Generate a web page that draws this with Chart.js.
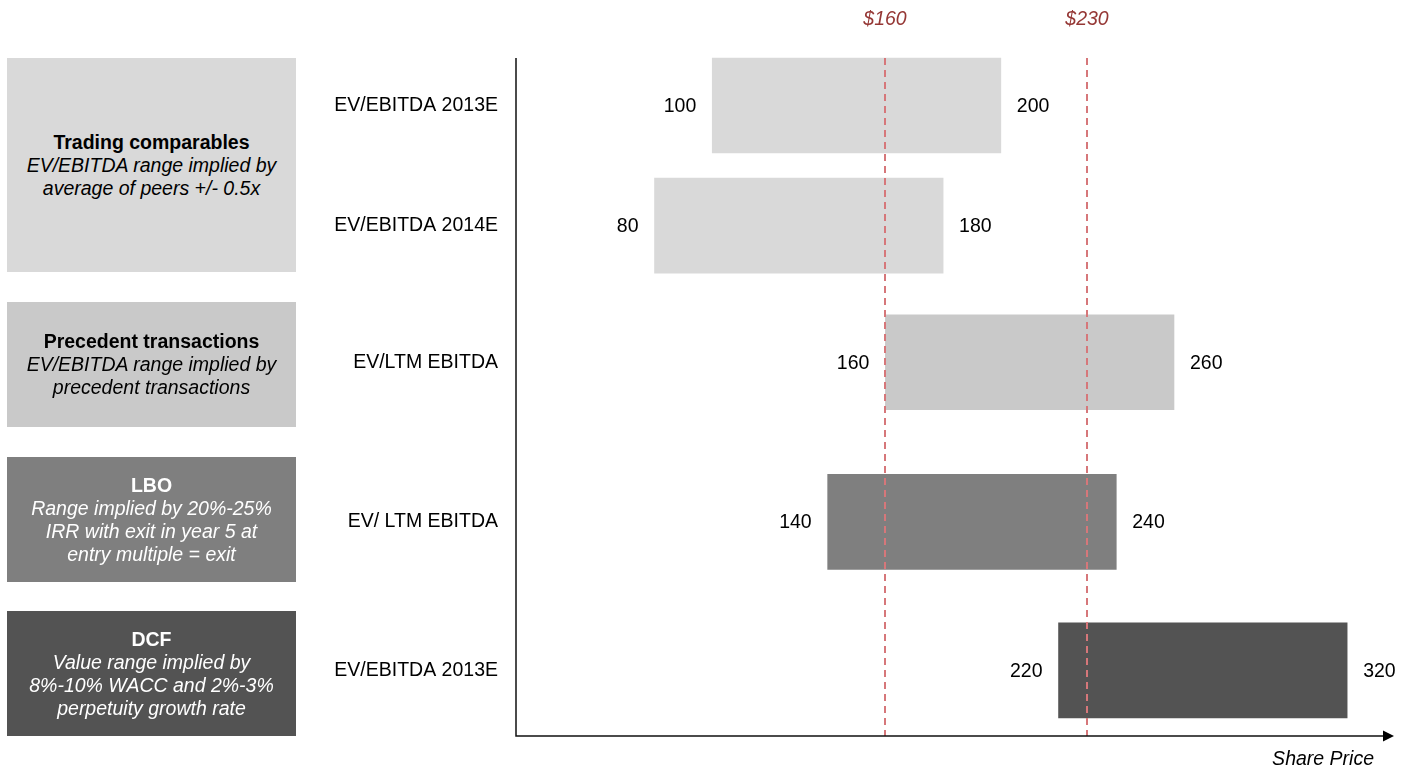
<!DOCTYPE html>
<html>
<head>
<meta charset="utf-8">
<title>Valuation summary</title>
<script src="https://cdn.jsdelivr.net/npm/chart.js@4.4.1/dist/chart.umd.min.js"></script>
<style>
  body { margin: 0; background: #fff; font-family: "Liberation Sans", Arial, sans-serif; }
  #wrap { position: relative; width: 1411px; height: 767px; }
  #chart { position: absolute; left: 0; top: 0; }
  .method {
    position: absolute; left: 7px; width: 289px;
    display: flex; flex-direction: column; justify-content: center; align-items: center;
    text-align: center; font-size: 19.5px; line-height: 23px;
  }
  .method b { font-weight: bold; }
  .method i { font-style: italic; }
</style>
</head>
<body>
<div id="wrap">
  <canvas id="chart"></canvas>
</div>
<script>
// valuation methods and the multiples behind each one
const methods = ['Trading comparables', 'Precedent transactions', 'LBO', 'DCF'];
const methodNotes = [
    ['EV/EBITDA range implied by', 'average of peers +/- 0.5x'],
    ['EV/EBITDA range implied by', 'precedent transactions'],
    ['Range implied by 20%-25%', 'IRR with exit in year 5 at', 'entry multiple = exit'],
    ['Value range implied by', '8%-10% WACC and 2%-3%', 'perpetuity growth rate']
];
const multiples = [['EV/EBITDA 2013E', 'EV/EBITDA 2014E'], ['EV/LTM EBITDA'], ['EV/ LTM EBITDA'], ['EV/EBITDA 2013E']];
const lowPrices = [[100, 80], [160], [140], [220]];
const highPrices = [[200, 180], [260], [240], [320]];
const refPrices = [160, 230];
const refLabels = ['$160', '$230'];
const axisTitle = 'Share Price';

// look
const fills = ['#d9d9d9', '#c9c9c9', '#7f7f7f', '#535353'];
const textColors = ['#000', '#000', '#fff', '#fff'];
const boxTops = [58, 302, 457, 611];
const boxHeights = [214, 125, 125, 125];
const rowWeights = [240, 153, 166, 131];
const FONT = '"Liberation Sans", Arial, sans-serif';

document.addEventListener("DOMContentLoaded", () => {
    const wrap = document.getElementById("wrap");

    // left-hand method boxes
    methods.forEach((m, i) => {
        const div = document.createElement("div");
        div.className = "method";
        div.style.top = boxTops[i] + "px";
        div.style.height = boxHeights[i] + "px";
        div.style.background = fills[i];
        div.style.color = textColors[i];
        div.innerHTML = `<b>${m}</b>` + methodNotes[i].map(t => `<i>${t}</i>`).join("");
        wrap.appendChild(div);
    });

    const scales = {
        x: { type: 'linear', display: false, min: 32, max: 330 }
    };
    methods.forEach((m, i) => {
        scales['y' + i] = {
            type: 'category',
            labels: multiples[i],
            position: 'left',
            stack: 'methods',
            stackWeight: rowWeights[i],
            weight: methods.length - i,
            offset: true,
            grid: { display: false, drawTicks: false },
            border: { display: false },
            ticks: { color: '#000', padding: 18, font: { size: 19.5 } },
            afterFit: (s) => { s.width = 216; }
        };
    });

    const datasets = methods.map((m, i) => ({
        label: m,
        xAxisID: 'x',
        yAxisID: 'y' + i,
        data: lowPrices[i].map((lo, j) => [lo, highPrices[i][j]]),
        backgroundColor: fills[i],
        barThickness: 95,
        grouped: false
    }));

    const decorations = {
        id: 'decorations',
        afterDatasetsDraw(chart) {
            const { ctx, chartArea: a, scales: { x } } = chart;
            const first = chart.getDatasetMeta(0).data[0].getProps(['y', 'height'], true);
            const top = first.y - first.height / 2;
            ctx.save();

            // low / high labels beside each bar
            ctx.font = `19.5px ${FONT}`;
            ctx.fillStyle = '#000';
            ctx.textBaseline = 'middle';
            datasets.forEach((ds, i) => {
                chart.getDatasetMeta(i).data.forEach((bar, j) => {
                    const p = bar.getProps(['x', 'y', 'base'], true);
                    ctx.textAlign = 'right';
                    ctx.fillText(lowPrices[i][j], p.base - 16, p.y + 1);
                    ctx.textAlign = 'left';
                    ctx.fillText(highPrices[i][j], p.x + 16, p.y + 1);
                });
            });

            // reference share prices
            ctx.strokeStyle = '#d6777a';
            ctx.lineWidth = 2;
            ctx.setLineDash([7, 5]);
            ctx.font = `italic 19.5px ${FONT}`;
            ctx.textAlign = 'center';
            refPrices.forEach((p, k) => {
                const px = Math.round(x.getPixelForValue(p));
                ctx.beginPath();
                ctx.moveTo(px, top);
                ctx.lineTo(px, a.bottom);
                ctx.stroke();
                ctx.fillStyle = '#953735';
                ctx.fillText(refLabels[k], px, 20);
            });
            ctx.setLineDash([]);

            // axes with arrow
            ctx.strokeStyle = '#111';
            ctx.lineWidth = 1.5;
            ctx.beginPath();
            ctx.moveTo(a.left, top);
            ctx.lineTo(a.left, a.bottom);
            ctx.lineTo(a.right + 8, a.bottom);
            ctx.stroke();
            ctx.fillStyle = '#000';
            ctx.beginPath();
            ctx.moveTo(a.right + 7, a.bottom - 5.5);
            ctx.lineTo(a.right + 18, a.bottom);
            ctx.lineTo(a.right + 7, a.bottom + 5.5);
            ctx.closePath();
            ctx.fill();

            ctx.font = `italic 19.5px ${FONT}`;
            ctx.textAlign = 'right';
            ctx.fillText(axisTitle, a.right - 2, a.bottom + 24);
            ctx.restore();
        }
    };

    Chart.defaults.font.family = FONT;
    Chart.defaults.font.size = 19.5;

    new Chart(document.getElementById("chart"), {
        type: 'bar',
        data: { datasets },
        options: {
            indexAxis: 'y',
            responsive: true,
            maintainAspectRatio: false,
            animation: false,
            events: [],
            layout: { padding: { left: 300, right: 35, top: 45.5, bottom: 31 } },
            scales,
            plugins: {
                legend: { display: false },
                tooltip: { enabled: false }
            }
        },
        plugins: [decorations]
    });
});
</script>
</body>
</html>
